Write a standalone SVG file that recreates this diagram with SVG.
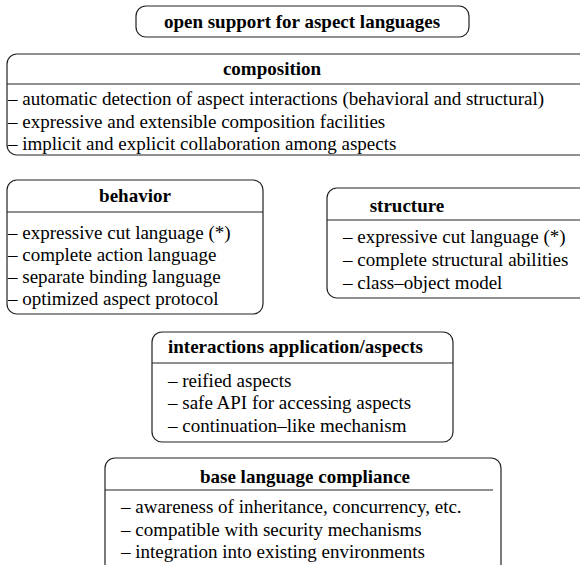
<svg xmlns="http://www.w3.org/2000/svg" width="580" height="565" viewBox="0 0 580 565" font-family="Liberation Serif, Times New Roman, serif" font-size="19">
<style>
.box{fill:#fff;stroke:#222;stroke-width:1.2}
.div{stroke:#222;stroke-width:1.2}
.t{font-weight:bold;fill:#000}
.i{fill:#000}
.c{text-anchor:middle}
</style>
<rect width="580" height="565" fill="#fff"/>
<g id="open-support">
<rect class="box" x="136" y="6" width="333" height="31" rx="10"/>
<text class="t c" x="302" y="28" font-family="Liberation Serif">open support for aspect languages</text>
</g>
<g id="composition">
<rect class="box" x="7" y="54" width="600" height="101" rx="10"/>
<line class="div" x1="7" y1="84" x2="607" y2="84"/>
<text class="t c" x="272" y="75" font-family="Liberation Serif">composition</text>
<text class="i" x="8" y="105" font-family="Liberation Serif">– automatic detection of aspect interactions (behavioral and structural)</text>
<text class="i" x="8" y="128" font-family="Liberation Serif">– expressive and extensible composition facilities</text>
<text class="i" x="8" y="150" font-family="Liberation Serif">– implicit and explicit collaboration among aspects</text>
</g>
<g id="behavior">
<rect class="box" x="7" y="180" width="256" height="134" rx="10"/>
<line class="div" x1="7" y1="212" x2="263" y2="212"/>
<text class="t c" x="135" y="202">behavior</text>
<text class="i" x="8" y="239">– expressive cut language (*)</text>
<text class="i" x="8" y="261">– complete action language</text>
<text class="i" x="8" y="283">– separate binding language</text>
<text class="i" x="8" y="305">– optimized aspect protocol</text>
</g>
<g id="structure">
<rect class="box" x="327" y="188" width="280" height="110" rx="10"/>
<line class="div" x1="327" y1="220" x2="607" y2="220"/>
<text class="t c" x="407" y="212">structure</text>
<text class="i" x="343" y="243">– expressive cut language (*)</text>
<text class="i" x="343" y="266">– complete structural abilities</text>
<text class="i" x="343" y="289">– class–object model</text>
</g>
<g id="interactions">
<rect class="box" x="152" y="332" width="301" height="110" rx="10"/>
<line class="div" x1="152" y1="363" x2="453" y2="363"/>
<text class="t" x="168" y="353">interactions application/aspects</text>
<text class="i" x="168" y="387">– reified aspects</text>
<text class="i" x="168" y="409">– safe API for accessing aspects</text>
<text class="i" x="168" y="432">– continuation–like mechanism</text>
</g>
<g id="base-language">
<rect class="box" x="105" y="458" width="396" height="130" rx="10"/>
<line class="div" x1="105" y1="490" x2="493" y2="490"/>
<text class="t c" x="305" y="483">base language compliance</text>
<text class="i" x="121" y="513">– awareness of inheritance, concurrency, etc.</text>
<text class="i" x="121" y="536">– compatible with security mechanisms</text>
<text class="i" x="121" y="558">– integration into existing environments</text>
</g>
<g id="connectors"/>
</svg>
